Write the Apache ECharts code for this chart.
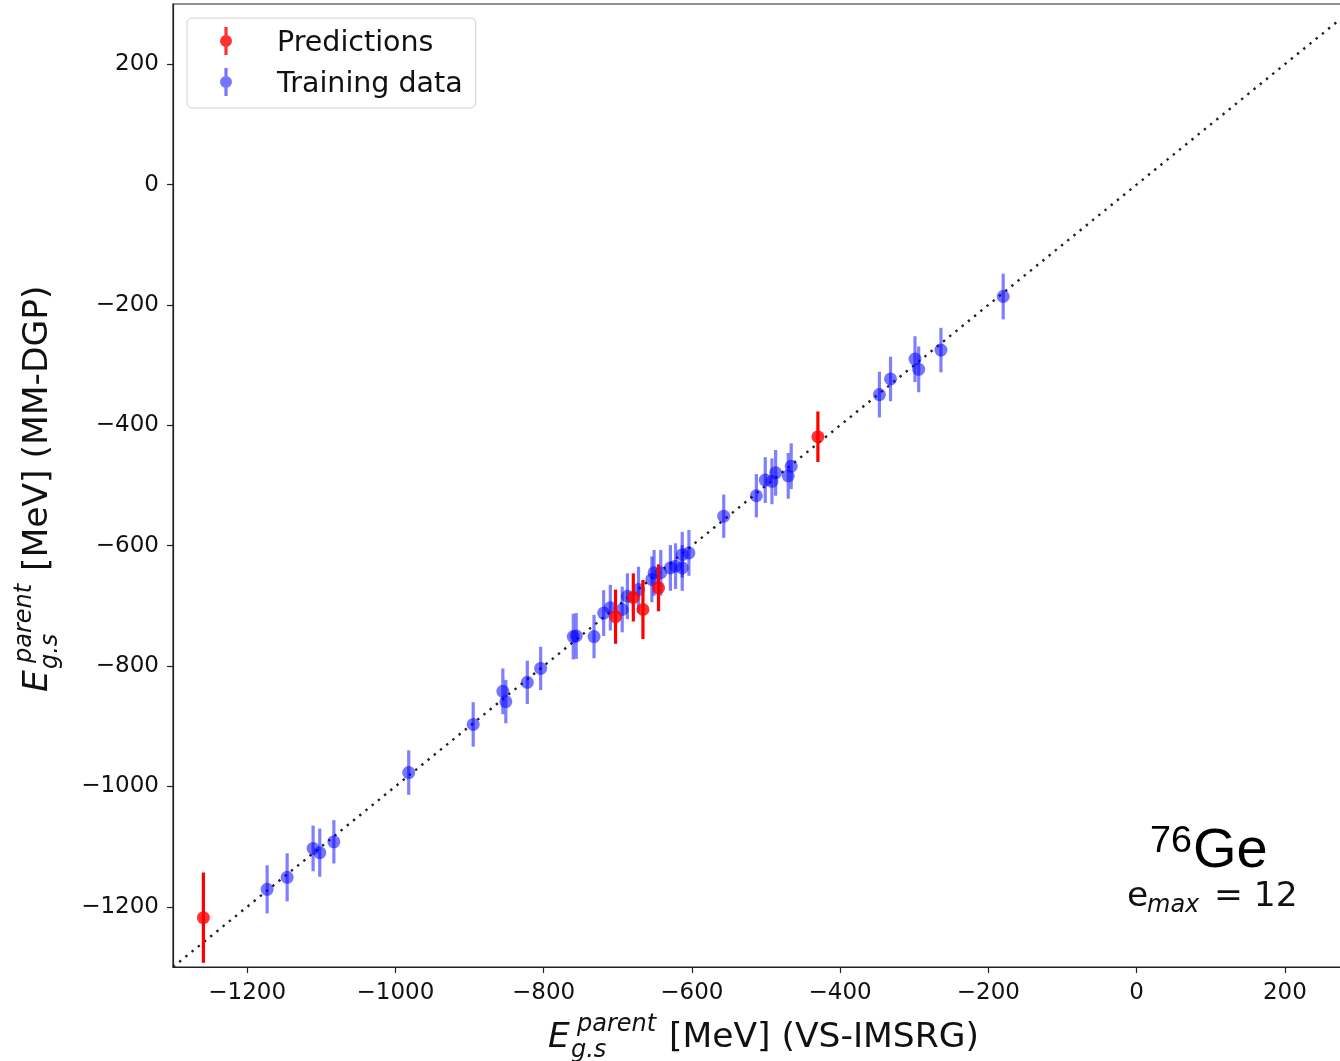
<!DOCTYPE html>
<html>
<head>
<meta charset="utf-8">
<script src="https://cdn.jsdelivr.net/npm/echarts@6/dist/echarts.min.js"></script>
<style>
  html, body { margin: 0; padding: 0; background: #fff; }
  #chart { width: 1340px; height: 1061px; }
</style>
</head>
<body>
<div id="chart"></div>
<script>
// Ground-state energies of the parent nucleus: VS-IMSRG (x) vs MM-DGP emulator (y), MeV
const axisRange = [-1300, 300];
const tickValues = [-1200, -1000, -800, -600, -400, -200, 0, 200];

const trainX = [-1173, -1146, -1111, -1102, -1083, -982, -895, -855, -851, -822,
                -804, -760, -756, -732, -719, -710, -694, -687, -672, -654,
                -651, -642, -629, -622, -613, -613, -604, -557, -513, -501,
                -492, -487, -470, -466, -347, -332, -299, -294, -264, -180];
const trainY = [-1171, -1151, -1103, -1110, -1092, -977, -897, -842, -859, -827,
                -804, -751, -750, -751, -712, -703, -706, -684, -673, -656,
                -645, -645, -637, -634, -637, -615, -612, -551, -517, -491,
                -493, -479, -484, -468, -349, -323, -290, -307, -275, -186];
const trainErr = [40, 40, 38, 40, 36, 37, 37, 38, 36, 36,
                  36, 38, 38, 36, 38, 38, 38, 38, 38, 38,
                  38, 38, 38, 38, 38, 38, 38, 36, 36, 38,
                  38, 38, 38, 38, 38, 37, 38, 38, 37, 38];

const predX = [-1259, -703, -679, -666, -645, -430];
const predY = [-1218, -718, -686, -706, -670, -419];
const predErr = [75, 45, 40, 49, 39, 42];

const SANS = '"DejaVu Sans", "Noto Sans", sans-serif';
const INK = '#111';
const minus = v => String(v).replace('-', '\u2212');

const trainData = trainX.map((x, i) => [x, trainY[i], trainErr[i]]);
const predData = predX.map((x, i) => [x, predY[i], predErr[i]]);

// vertical error bar from y - err to y + err
function errorBar(color, width) {
  return function (params, api) {
    const x = api.value(0), y = api.value(1), e = api.value(2);
    const lo = api.coord([x, y - e]);
    const hi = api.coord([x, y + e]);
    return {
      type: 'line',
      shape: { x1: lo[0], y1: lo[1], x2: hi[0], y2: hi[1] },
      style: { stroke: color, lineWidth: width, lineCap: 'butt' }
    };
  };
}

// legend glyph: marker with an error bar through it; the trailing move-to
// pads the glyph box downwards so the marker sits level with the label
const errIcon = 'path://M4.4,0H7.6V28H4.4Z M0,14A6,6 0 1,1 12,14A6,6 0 1,1 0,14Z M6,34';

function axisCommon(margin) {
  return {
    type: 'value',
    min: axisRange[0],
    max: axisRange[1],
    axisLine: { show: true, onZero: false, lineStyle: { color: '#222', width: 1.2 } },
    axisTick: { show: true, customValues: tickValues, length: 6, inside: false,
                lineStyle: { color: '#222', width: 1.2 } },
    axisLabel: { customValues: tickValues, formatter: minus, margin: margin,
                 fontSize: 23, fontFamily: SANS, color: INK },
    splitLine: { show: false }
  };
}

// axis title built from pieces: E with stacked super/subscript, then units
function axisTitle(rest, pos, rotation) {
  return {
    type: 'group',
    x: pos[0], y: pos[1], rotation: rotation,
    children: [
      { type: 'text', x: 0, y: -11.9,
        style: { text: 'E', fontSize: 34.5, fontStyle: 'italic', fontFamily: SANS, fill: INK, verticalAlign: 'middle' } },
      { type: 'text', x: 29, y: -25.5,
        style: { text: 'parent', fontSize: 24, fontStyle: 'italic', fontFamily: SANS, fill: INK, verticalAlign: 'middle' } },
      { type: 'text', x: 23, y: 0.5,
        style: { text: 'g.s', fontSize: 24, fontStyle: 'italic', fontFamily: SANS, fill: INK, verticalAlign: 'middle' } },
      { type: 'text', x: 121, y: -11.9,
        style: { text: rest, fontSize: 34.5, fontFamily: SANS, fill: INK, verticalAlign: 'middle' } }
    ]
  };
}

const chart = echarts.init(document.getElementById('chart'), null, { renderer: 'canvas' });

chart.setOption({
  animation: false,
  backgroundColor: '#fff',
  grid: { left: 173, right: -19, top: 4, bottom: 94, show: true,
          outerBoundsMode: 'none', containLabel: false,
          borderColor: '#222', borderWidth: 1.2, backgroundColor: '#fff' },
  xAxis: axisCommon(15),
  yAxis: axisCommon(14),
  legend: {
    data: ['Predictions', 'Training data'],
    orient: 'vertical',
    left: 187, top: 18,
    padding: [9, 13, 6, 33],
    itemWidth: 12, itemHeight: 34, itemGap: 7,
    icon: errIcon,
    backgroundColor: 'rgba(255,255,255,0.8)',
    borderColor: '#d0d0d0', borderWidth: 1, borderRadius: 5,
    textStyle: { fontSize: 28.5, fontFamily: SANS, color: INK, lineHeight: 28, padding: [0, 0, 0, 40] }
  },
  graphic: [
    axisTitle('[MeV] (VS-IMSRG)', [548, 1050], 0),
    axisTitle('[MeV] (MM-DGP)', [50, 692], Math.PI / 2),
    { type: 'text', x: 1150, y: 842,
      style: { text: '76', fontSize: 37.7, fontFamily: '"Liberation Sans", Arial, sans-serif', fill: '#000', verticalAlign: 'middle' } },
    { type: 'text', x: 1193, y: 852,
      style: { text: 'Ge', fontSize: 56, fontFamily: '"Liberation Sans", Arial, sans-serif', fill: '#000', verticalAlign: 'middle' } },
    { type: 'text', x: 1127, y: 897,
      style: { text: 'e', fontSize: 34.5, fontFamily: SANS, fill: INK, verticalAlign: 'middle' } },
    { type: 'text', x: 1147, y: 905.7,
      style: { text: 'max', fontSize: 24, fontStyle: 'italic', fontFamily: SANS, fill: INK, verticalAlign: 'middle' } },
    { type: 'text', x: 1214, y: 897,
      style: { text: '= 12', fontSize: 34.5, fontFamily: SANS, fill: INK, verticalAlign: 'middle' } }
  ],
  series: [
    {
      name: 'y = x',
      type: 'line',
      data: [[axisRange[0], axisRange[0]], [axisRange[1], axisRange[1]]],
      symbol: 'none',
      silent: true,
      lineStyle: { color: '#222', width: 2.4, type: [2.4, 5.6], cap: 'butt' },
      z: 1
    },
    {
      name: 'Training data bars',
      type: 'custom',
      data: trainData,
      encode: { x: 0, y: 1 },
      renderItem: errorBar('rgba(0,0,255,0.5)', 3.2),
      clip: true,
      silent: true,
      z: 2
    },
    {
      name: 'Training data',
      type: 'scatter',
      data: trainData,
      symbol: 'circle',
      symbolSize: 13,
      itemStyle: { color: 'rgba(0,0,255,0.68)' },
      z: 3
    },
    {
      name: 'Predictions bars',
      type: 'custom',
      data: predData,
      encode: { x: 0, y: 1 },
      renderItem: errorBar('#ff0000', 3.2),
      clip: true,
      silent: true,
      z: 4
    },
    {
      name: 'Predictions',
      type: 'scatter',
      data: predData,
      symbol: 'circle',
      symbolSize: 13,
      itemStyle: { color: '#ff0000' },
      z: 5
    }
  ]
});
</script>
</body>
</html>
